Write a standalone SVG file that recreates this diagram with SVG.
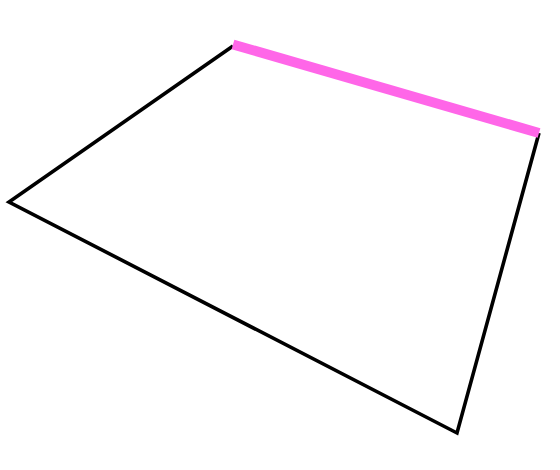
<svg xmlns="http://www.w3.org/2000/svg" width="560" height="470" viewBox="0 0 560 470">
<style>
.edge{fill:none;stroke:#000;stroke-width:3.6;stroke-linejoin:miter}
.hi{fill:none;stroke:#ff66e8;stroke-width:10}
</style>
<rect width="560" height="470" fill="#fff"/>
<g id="shape">
<polyline class="edge" points="233,46 9,202 457,433 539,133"/>
<line class="hi" x1="233" y1="44.5" x2="539" y2="133"/>
</g>
</svg>
